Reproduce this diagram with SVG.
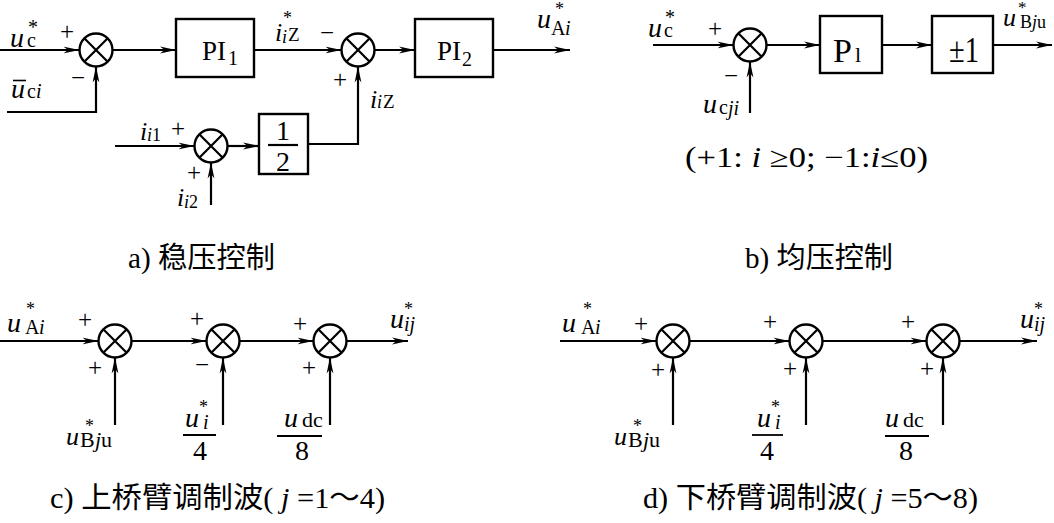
<svg xmlns="http://www.w3.org/2000/svg" width="1054" height="523" viewBox="0 0 1054 523" font-family="Liberation Serif, Times New Roman, serif">
<defs>
<marker id="ar" markerUnits="userSpaceOnUse" markerWidth="18" markerHeight="8" refX="16" refY="4" orient="auto">
<path d="M0,0.6 L16,4 L0,7.4 L4.5,4 Z" fill="#000"/>
</marker>
<g id="sumSym">
<circle cx="0" cy="0" r="16.5" fill="#fff" stroke="#000" stroke-width="2.4"/>
<path d="M-11.7,-11.7 L11.7,11.7 M-11.7,11.7 L11.7,-11.7" stroke="#000" stroke-width="2.2"/>
</g>
</defs>
<style>
.w{stroke:#000;stroke-width:2.2;fill:none}
.a{marker-end:url(#ar)}
.b{fill:#fff;stroke:#000;stroke-width:2.4}
text{fill:#000}
.i{font-style:italic}
.sg{text-anchor:middle}
.m{text-anchor:middle}
</style>
<rect width="1054" height="523" fill="#fff"/>

<g id="connectors">
<path class="w a" d="M0,50 H79.5"/>
<path class="w a" d="M112.5,50 H176"/>
<path class="w a" d="M254,50 H341.5"/>
<path class="w a" d="M374.5,50 H415"/>
<path class="w a" d="M493,50 H570"/>
<path class="w a" d="M7,112 H96 V66.5"/>
<path class="w a" d="M115,146 H194.5"/>
<path class="w a" d="M227.5,146 H259"/>
<path class="w a" d="M308,144 H358 V66.5"/>
<path class="w a" d="M211,205 V162.5"/>
<path class="w a" d="M653,45 H733.5"/>
<path class="w a" d="M750,113 V61.5"/>
<path class="w a" d="M766.5,45 H820"/>
<path class="w a" d="M882,45 H932"/>
<path class="w a" d="M993,45 H1052"/>
<path class="w a" d="M0,341 H98.5"/>
<path class="w a" d="M131.5,341 H206.5"/>
<path class="w a" d="M239.5,341 H313.5"/>
<path class="w a" d="M346.5,341 H408"/>
<path class="w a" d="M115,425 V357.5"/>
<path class="w a" d="M223,425 V357.5"/>
<path class="w a" d="M330,425 V357.5"/>
<path class="w a" d="M560,341 H656.5"/>
<path class="w a" d="M689.5,341 H789.5"/>
<path class="w a" d="M822.5,341 H926.5"/>
<path class="w a" d="M959.5,341 H1037"/>
<path class="w a" d="M673,425 V357.5"/>
<path class="w a" d="M806,425 V357.5"/>
<path class="w a" d="M943,425 V357.5"/>
</g>

<g id="a_sum1"><use href="#sumSym" x="96" y="50"/></g>
<g id="a_pi1"><rect class="b" x="176" y="19" width="78" height="58"/><text font-size="27"><tspan x="202" y="60">PI</tspan><tspan x="228" y="65" font-size="20">1</tspan></text></g>
<g id="a_sum2"><use href="#sumSym" x="358" y="50"/></g>
<g id="a_pi2"><rect class="b" x="415" y="19" width="78" height="58"/><text font-size="27"><tspan x="437" y="60">PI</tspan><tspan x="462" y="66" font-size="20">2</tspan></text></g>
<g id="a_sum3"><use href="#sumSym" x="211" y="146"/></g>
<g id="a_half"><rect class="b" x="259" y="114" width="49" height="60"/><text class="m" x="283" y="140" font-size="28">1</text><path class="w" d="M268,145 H298" stroke-width="1.8"/><text class="m" x="283" y="171" font-size="28">2</text></g>

<g id="a_labels">
<text font-size="20"><tspan class="i" x="10" y="47" font-size="28">u</tspan><tspan x="27" y="47">c</tspan><tspan x="28" y="34">*</tspan></text>
<text class="sg" x="67" y="40" font-size="25">+</text>
<text class="sg" x="78" y="86" font-size="25">−</text>
<text font-size="20"><tspan class="i" x="11" y="98" font-size="28">u</tspan><tspan x="27" y="98">c</tspan><tspan class="i" x="36" y="98">i</tspan></text>
<path d="M13,80.5 H26" stroke="#000" stroke-width="1.6"/>
<text font-size="18"><tspan class="i" x="275" y="41" font-size="26">i</tspan><tspan class="i" x="282" y="43">i</tspan><tspan x="288" y="41" font-size="19">Z</tspan><tspan x="283" y="24">*</tspan></text>
<text class="sg" x="327" y="41" font-size="25">−</text>
<text class="sg" x="340" y="88" font-size="25">+</text>
<text font-size="18"><tspan class="i" x="370" y="108" font-size="26">i</tspan><tspan class="i" x="377" y="108">i</tspan><tspan x="383" y="108" font-size="19">Z</tspan></text>
<text font-size="18"><tspan class="i" x="140" y="140" font-size="26">i</tspan><tspan class="i" x="147" y="141">i</tspan><tspan x="152" y="141">1</tspan></text>
<text class="sg" x="178" y="137" font-size="25">+</text>
<text class="sg" x="194" y="181" font-size="25">+</text>
<text font-size="18"><tspan class="i" x="177" y="206" font-size="26">i</tspan><tspan class="i" x="184" y="208">i</tspan><tspan x="189" y="208">2</tspan></text>
<text font-size="20"><tspan class="i" x="537" y="28" font-size="28">u</tspan><tspan x="551" y="35">A</tspan><tspan class="i" x="565" y="35">i</tspan><tspan x="555" y="15" font-size="18">*</tspan></text>
</g>

<g id="b_sum"><use href="#sumSym" x="750" y="45"/></g>
<g id="b_p1"><rect class="b" x="820" y="16" width="62" height="57"/><text><tspan x="833" y="62" font-size="34">P</tspan><tspan x="855" y="62" font-size="22">l</tspan></text></g>
<g id="b_pm1"><rect class="b" x="932" y="16" width="61" height="57"/><text x="949" y="62" font-size="36" textLength="30" lengthAdjust="spacingAndGlyphs">±1</text></g>
<g id="b_labels">
<text font-size="20"><tspan class="i" x="648" y="37" font-size="28">u</tspan><tspan x="664" y="37">c</tspan><tspan x="665" y="24">*</tspan></text>
<text class="sg" x="715" y="37" font-size="25">+</text>
<text class="sg" x="731" y="84" font-size="25">−</text>
<text font-size="20"><tspan class="i" x="703" y="113" font-size="28">u</tspan><tspan x="719" y="114">c</tspan><tspan class="i" x="728" y="115">ji</tspan></text>
<text font-size="18"><tspan class="i" x="1003" y="26" font-size="26">u</tspan><tspan x="1020" y="28">B</tspan><tspan class="i" x="1032" y="28">j</tspan><tspan x="1037" y="28">u</tspan><tspan x="1018" y="13" font-size="17">*</tspan></text>
<text x="685" y="167" font-size="29" textLength="243" lengthAdjust="spacingAndGlyphs">(+1: <tspan class="i">i</tspan> ≥0; −1:<tspan class="i">i</tspan>≤0)</text>
</g>

<g id="c_sum1"><use href="#sumSym" x="115" y="341"/></g>
<g id="c_sum2"><use href="#sumSym" x="223" y="341"/></g>
<g id="c_sum3"><use href="#sumSym" x="330" y="341"/></g>
<g id="c_labels">
<text font-size="20"><tspan class="i" x="7" y="332" font-size="28">u</tspan><tspan x="25" y="334">A</tspan><tspan class="i" x="39" y="334">i</tspan><tspan x="26" y="315" font-size="18">*</tspan></text>
<text class="sg" x="85" y="328" font-size="25">+</text>
<text class="sg" x="95" y="376" font-size="25">+</text>
<text class="sg" x="197" y="327" font-size="25">+</text>
<text class="sg" x="202" y="373" font-size="25">−</text>
<text class="sg" x="300" y="332" font-size="25">+</text>
<text class="sg" x="309" y="376" font-size="25">+</text>
<text font-size="20"><tspan class="i" x="390" y="328" font-size="28">u</tspan><tspan class="i" x="404" y="331">ij</tspan><tspan x="404" y="315" font-size="18">*</tspan></text>
<text font-size="22"><tspan class="i" x="66" y="445" font-size="26">u</tspan><tspan x="80" y="447">B</tspan><tspan class="i" x="95" y="447">j</tspan><tspan x="101" y="447">u</tspan><tspan x="85" y="432" font-size="18">*</tspan></text>
<text font-size="20"><tspan class="i" x="185" y="427" font-size="28">u</tspan><tspan class="i" x="203" y="429">i</tspan><tspan x="199" y="413" font-size="18">*</tspan></text>
<path d="M183,435 H216" stroke="#000" stroke-width="1.8"/>
<text class="m" x="200" y="460" font-size="28">4</text>
<text font-size="22"><tspan class="i" x="284" y="427" font-size="28">u</tspan><tspan x="302" y="427">dc</tspan></text>
<path d="M277,436 H322" stroke="#000" stroke-width="1.8"/>
<text class="m" x="302" y="460" font-size="28">8</text>
</g>

<g id="d_sum1"><use href="#sumSym" x="673" y="341"/></g>
<g id="d_sum2"><use href="#sumSym" x="806" y="341"/></g>
<g id="d_sum3"><use href="#sumSym" x="943" y="341"/></g>
<g id="d_labels">
<text font-size="20"><tspan class="i" x="562" y="332" font-size="28">u</tspan><tspan x="581" y="334">A</tspan><tspan class="i" x="595" y="334">i</tspan><tspan x="583" y="315" font-size="18">*</tspan></text>
<text class="sg" x="641" y="332" font-size="25">+</text>
<text class="sg" x="658" y="378" font-size="25">+</text>
<text class="sg" x="770" y="330" font-size="25">+</text>
<text class="sg" x="790" y="377" font-size="25">+</text>
<text class="sg" x="908" y="330" font-size="25">+</text>
<text class="sg" x="927" y="377" font-size="25">+</text>
<text font-size="20"><tspan class="i" x="1020" y="328" font-size="28">u</tspan><tspan class="i" x="1034" y="331">ij</tspan><tspan x="1034" y="315" font-size="18">*</tspan></text>
<text font-size="22"><tspan class="i" x="614" y="445" font-size="26">u</tspan><tspan x="628" y="447">B</tspan><tspan class="i" x="643" y="447">j</tspan><tspan x="649" y="447">u</tspan><tspan x="633" y="432" font-size="18">*</tspan></text>
<text font-size="20"><tspan class="i" x="757" y="427" font-size="28">u</tspan><tspan class="i" x="775" y="429">i</tspan><tspan x="771" y="413" font-size="18">*</tspan></text>
<path d="M752,435 H783" stroke="#000" stroke-width="1.8"/>
<text class="m" x="767" y="460" font-size="28">4</text>
<text font-size="22"><tspan class="i" x="885" y="427" font-size="28">u</tspan><tspan x="903" y="427">dc</tspan></text>
<path d="M885,436 H929" stroke="#000" stroke-width="1.8"/>
<text class="m" x="906" y="460" font-size="28">8</text>
</g>

<g id="captions" font-family="Liberation Serif, Noto Sans CJK SC, serif" font-size="29">
<text x="128" y="268" textLength="147" lengthAdjust="spacingAndGlyphs">a) 稳压控制</text>
<text x="745" y="268" textLength="148" lengthAdjust="spacingAndGlyphs">b) 均压控制</text>
<text x="50" y="508" textLength="335" lengthAdjust="spacingAndGlyphs">c) 上桥臂调制波( <tspan class="i">j</tspan> =1～4)</text>
<text x="643" y="508" textLength="335" lengthAdjust="spacingAndGlyphs">d) 下桥臂调制波( <tspan class="i">j</tspan> =5～8)</text>
</g>
</svg>
